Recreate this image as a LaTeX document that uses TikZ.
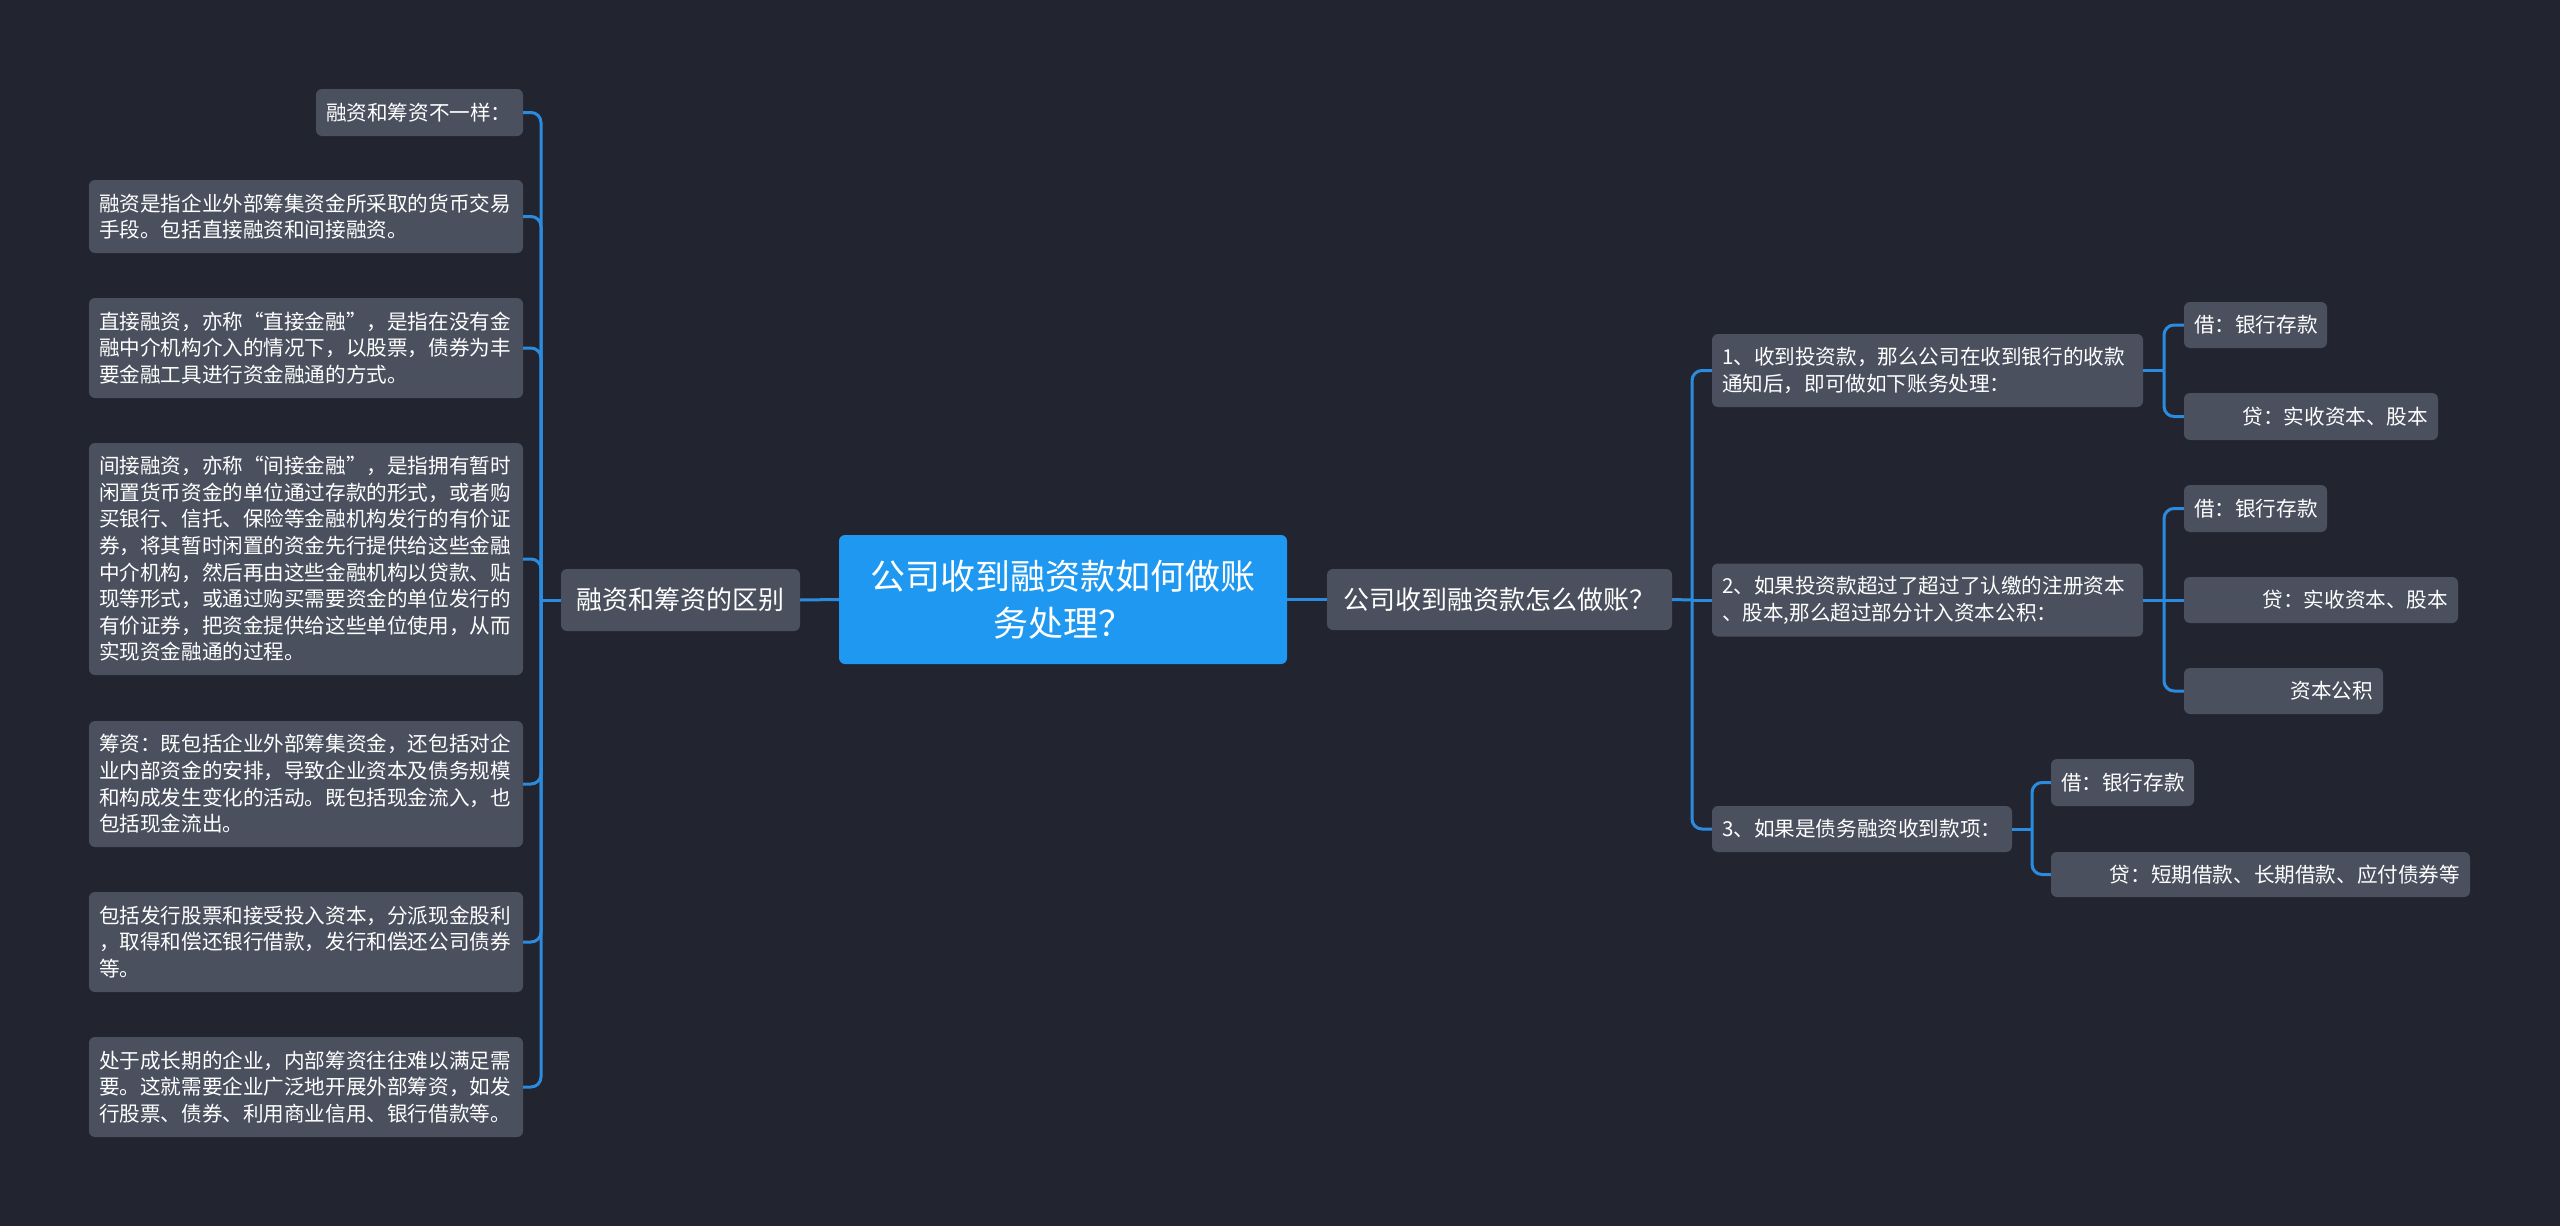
\documentclass[tikz,border=0pt]{standalone}
\usepackage{fontspec}
\setmainfont{Noto Sans CJK SC}
\definecolor{bg}{HTML}{222530}
\definecolor{nodefill}{HTML}{4A505E}
\definecolor{mainblue}{HTML}{1E98F0}
\definecolor{linkblue}{HTML}{2B8CDF}
\begin{document}
\begin{tikzpicture}[x=1pt,y=-1pt,
  box/.style={rounded corners=6pt, fill=nodefill, text=white, inner xsep=10pt, inner ysep=0pt, anchor=center},
  small/.style={font=\fontsize{20.6}{26.6}\selectfont},
  leafL/.style={box, small, align=left},
  leafR/.style={box, small, align=right},
  mid/.style={box, font=\fontsize{26}{32}\selectfont, align=center},
  root/.style={box, fill=mainblue, font=\fontsize{35}{47}\selectfont, align=center},
  conn/.style={draw=linkblue, line width=3pt},
  elbow/.style={conn, rounded corners=10pt}]
\fill[bg] (0,0) rectangle (2560,1226);
\useasboundingbox (0,0) rectangle (2560,1226);

% root
\node[root, minimum width=448, minimum height=129, text width=428] (c) at (1063,599.5) {公司收到融资款如何做账\\务处理？};

% left side
\node[mid, minimum width=239, minimum height=62, text width=219] (q) at (680.5,600) {融资和筹资的区别};
\node[leafL, minimum width=207, minimum height=47, text width=187] (l1) at (419.5,112.5) {融资和筹资不一样：};
\node[leafL, minimum width=434, minimum height=73, text width=414] (l2) at (306,216.5) {融资是指企业外部筹集资金所采取的货币交易\\手段。包括直接融资和间接融资。};
\node[leafL, minimum width=434, minimum height=100, text width=414] (l3) at (306,348) {直接融资，亦称“直接金融”，是指在没有金\\融中介机构介入的情况下，以股票，债券为丰\\要金融工具进行资金融通的方式。};
\node[leafL, minimum width=434, minimum height=232, text width=414] (l4) at (306,559) {间接融资，亦称“间接金融”，是指拥有暂时\\闲置货币资金的单位通过存款的形式，或者购\\买银行、信托、保险等金融机构发行的有价证\\券，将其暂时闲置的资金先行提供给这些金融\\中介机构，然后再由这些金融机构以贷款、贴\\现等形式，或通过购买需要资金的单位发行的\\有价证券，把资金提供给这些单位使用，从而\\实现资金融通的过程。};
\node[leafL, minimum width=434, minimum height=126, text width=414] (l5) at (306,784) {筹资：既包括企业外部筹集资金，还包括对企\\业内部资金的安排，导致企业资本及债务规模\\和构成发生变化的活动。既包括现金流入，也\\包括现金流出。};
\node[leafL, minimum width=434, minimum height=100, text width=414] (l6) at (306,942) {包括发行股票和接受投入资本，分派现金股利\\，取得和偿还银行借款，发行和偿还公司债券\\等。};
\node[leafL, minimum width=434, minimum height=100, text width=414] (l7) at (306,1087) {处于成长期的企业，内部筹资往往难以满足需\\要。这就需要企业广泛地开展外部筹资，如发\\行股票、债券、利用商业信用、银行借款等。};

% right side
\node[mid, minimum width=345, minimum height=61, text width=325] (r) at (1499.5,599.5) {公司收到融资款怎么做账？};
\node[leafL, minimum width=431, minimum height=73, text width=411] (r1) at (1927.5,370.5) {1、收到投资款，那么公司在收到银行的收款\\通知后，即可做如下账务处理：};
\node[leafL, minimum width=431, minimum height=73, text width=411] (r2) at (1927.5,600) {2、如果投资款超过了超过了认缴的注册资本\\、股本,那么超过部分计入资本公积：};
\node[leafL, minimum width=300, minimum height=46, text width=280] (r3) at (1862,829) {3、如果是债务融资收到款项：};

\node[leafL, minimum width=143, minimum height=46, text width=123] (r1a) at (2255.5,325) {借：银行存款};
\node[leafR, minimum width=254, minimum height=47, text width=234] (r1b) at (2311,416.5) {贷：实收资本、股本};
\node[leafL, minimum width=143, minimum height=47, text width=123] (r2a) at (2255.5,508.5) {借：银行存款};
\node[leafR, minimum width=274, minimum height=46, text width=254] (r2b) at (2321,600) {贷：实收资本、股本};
\node[leafR, minimum width=199, minimum height=46, text width=179] (r2c) at (2283.5,691) {资本公积};
\node[leafL, minimum width=143, minimum height=47, text width=123] (r3a) at (2122.5,782.5) {借：银行存款};
\node[leafR, minimum width=419, minimum height=45, text width=399] (r3b) at (2260.5,874.5) {贷：短期借款、长期借款、应付债券等};

% bracket points
\coordinate (lb) at (541,600);
\coordinate (rb) at (1692,600);
\coordinate (b1) at (2164,370.5);
\coordinate (b2) at (2164,600);
\coordinate (b3) at (2032,829);

% connectors
\draw[conn] (c.west) -- (q.east);
\draw[conn] (q.west) -- (lb);
\foreach \n in {l1,l2,l3,l4,l5,l6,l7} \draw[elbow] (lb) |- (\n.east);

\draw[conn] (c.east) -- (r.west);
\draw[conn] (r.east) -- (rb);
\draw[elbow] (rb) |- (r1.west);
\draw[conn] (rb) -- (r2.west);
\draw[elbow] (rb) |- (r3.west);

\draw[conn] (r1.east) -- (b1);
\draw[elbow] (b1) |- (r1a.west);
\draw[elbow] (b1) |- (r1b.west);

\draw[conn] (r2.east) -- (b2);
\draw[elbow] (b2) |- (r2a.west);
\draw[conn] (b2) -- (r2b.west);
\draw[elbow] (b2) |- (r2c.west);

\draw[conn] (r3.east) -- (b3);
\draw[elbow] (b3) |- (r3a.west);
\draw[elbow] (b3) |- (r3b.west);
\end{tikzpicture}
\end{document}
